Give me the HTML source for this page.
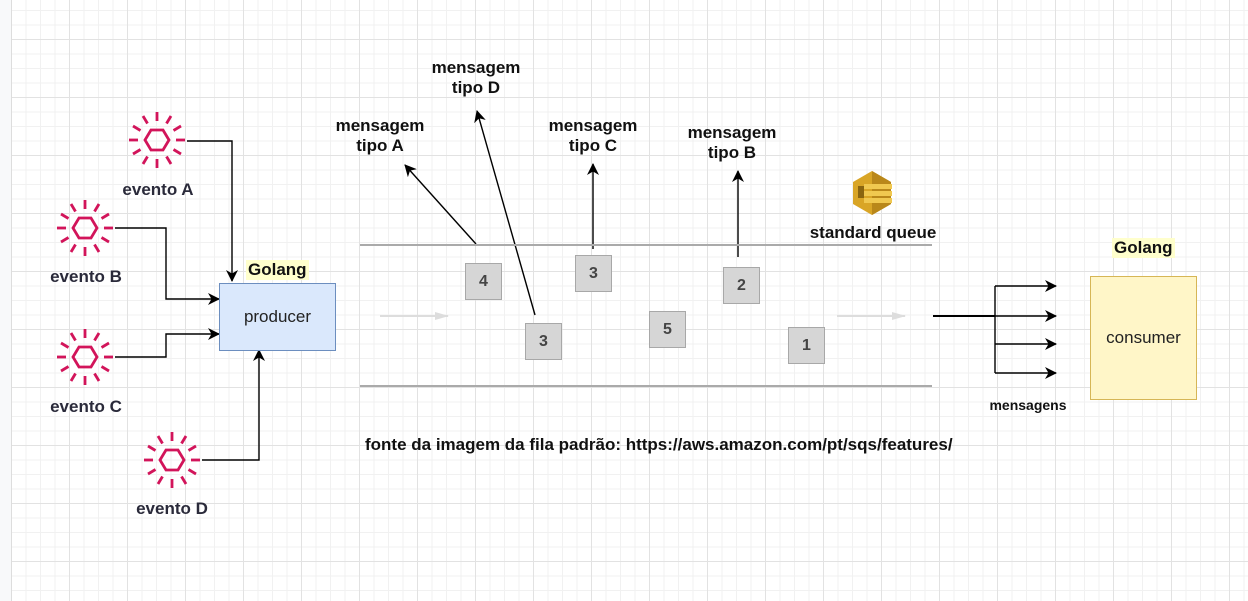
<!DOCTYPE html>
<html><head><meta charset="utf-8"><style>
body{margin:0;width:1248px;height:601px;overflow:hidden;position:relative;font-family:"Liberation Sans",sans-serif;
background-color:#fff;
background-image:linear-gradient(#e2e2e2 1px,transparent 1px),linear-gradient(90deg,#e2e2e2 1px,transparent 1px),linear-gradient(#f1f1f1 1px,transparent 1px),linear-gradient(90deg,#f1f1f1 1px,transparent 1px);
background-size:58px 58px,58px 58px,14.5px 14.5px,14.5px 14.5px;
background-position:11px 39px,11px 39px,11px 10px,11px 10px;}
.strip{position:absolute;left:0;top:0;width:11px;height:601px;background:#f8f9fa;border-right:1px solid #ddd}
.t{position:absolute;font-weight:bold;font-size:17px;color:#111;text-align:center;line-height:20px;white-space:nowrap}
.ev{color:#2a2a3a}
.box{position:absolute;background:#d6d6d6;border:1px solid #a8a8a8;width:35px;height:35px;font-weight:bold;font-size:16px;color:#444;display:flex;align-items:center;justify-content:center}
</style></head><body>
<div class="strip"></div>
<svg width="1248" height="601" style="position:absolute;left:0;top:0">
<defs>
<marker id="a" markerWidth="12" markerHeight="12" refX="11" refY="6" orient="auto" markerUnits="userSpaceOnUse"><path d="M0,0 L12,6 L0,12 L3.5,6z" fill="#000"/></marker>
<marker id="g" markerWidth="14" markerHeight="10" refX="13" refY="5" orient="auto" markerUnits="userSpaceOnUse"><path d="M0,1 L14,5 L0,9z" fill="#ddd"/></marker>
<g id="sun" stroke="#d2145a" stroke-width="2.8" fill="none">
<polygon points="-12,0 -6,-10 6,-10 12,0 6,10 -6,10"/>
<g>
<line x1="0" y1="-19" x2="0" y2="-28"/><line x1="0" y1="19" x2="0" y2="28"/>
<line x1="19" y1="0" x2="28" y2="0"/><line x1="-19" y1="0" x2="-28" y2="0"/>
<line x1="9.5" y1="-16.5" x2="14" y2="-24"/><line x1="-9.5" y1="-16.5" x2="-14" y2="-24"/>
<line x1="9.5" y1="16.5" x2="14" y2="24"/><line x1="-9.5" y1="16.5" x2="-14" y2="24"/>
<line x1="16.5" y1="-9.5" x2="24" y2="-14"/><line x1="-16.5" y1="-9.5" x2="-24" y2="-14"/>
<line x1="16.5" y1="9.5" x2="24" y2="14"/><line x1="-16.5" y1="9.5" x2="-24" y2="14"/>
</g></g>
</defs>
<use href="#sun" x="157" y="140"/><use href="#sun" x="85" y="228"/><use href="#sun" x="85" y="357"/><use href="#sun" x="172" y="460"/>
<g stroke="#000" stroke-width="1.4" fill="none">
<polyline points="187,141 232,141 232,281" marker-end="url(#a)"/>
<polyline points="115,228 166,228 166,299 219,299" marker-end="url(#a)"/>
<polyline points="115,357 166,357 166,334 219,334" marker-end="url(#a)"/>
<polyline points="202,460 259,460 259,350" marker-end="url(#a)"/>
<line x1="476" y1="244" x2="405" y2="165" marker-end="url(#a)"/>
<line x1="535" y1="315" x2="477" y2="111" marker-end="url(#a)"/>
<line x1="593" y1="249" x2="593" y2="164" marker-end="url(#a)"/>
<line x1="738" y1="257" x2="738" y2="171" marker-end="url(#a)"/>
</g>
<g stroke="#aaa" stroke-width="2"><line x1="360" y1="245" x2="932" y2="245"/><line x1="360" y1="386" x2="932" y2="386"/></g>
<g stroke="#ddd" stroke-width="2"><line x1="380" y1="316" x2="448" y2="316" marker-end="url(#g)"/><line x1="837" y1="316" x2="905" y2="316" marker-end="url(#g)"/></g>
<g stroke="#000" stroke-width="1.4" fill="none">
<line x1="933" y1="316" x2="995" y2="316" stroke-width="2"/>
<line x1="995" y1="286" x2="995" y2="373"/>
<line x1="995" y1="286" x2="1056" y2="286" marker-end="url(#a)"/>
<line x1="995" y1="316" x2="1056" y2="316" marker-end="url(#a)"/>
<line x1="995" y1="344" x2="1056" y2="344" marker-end="url(#a)"/>
<line x1="995" y1="373" x2="1056" y2="373" marker-end="url(#a)"/>
</g>
<g transform="translate(872,193)">
<polygon points="-19,-11 0,-22 19,-11 19,11 0,22 -19,11" fill="#d9a526"/>
<polygon points="0,-22 19,-11 19,11 0,22" fill="#b9871a"/>
<rect x="-8" y="-9" width="28" height="5" fill="#f0c850"/><rect x="-8" y="-2" width="28" height="5" fill="#f0c850"/><rect x="-8" y="5" width="28" height="5" fill="#f0c850"/>
<rect x="-14" y="-7" width="6" height="12" fill="#8a6510"/>
</g>
</svg>
<div class="t ev" style="left:108px;top:180px;width:100px">evento A</div>
<div class="t ev" style="left:36px;top:267px;width:100px">evento B</div>
<div class="t ev" style="left:36px;top:397px;width:100px">evento C</div>
<div class="t ev" style="left:122px;top:499px;width:100px">evento D</div>
<div class="t" style="left:246px;top:260px;background:#ffffcc;padding:0 2px">Golang</div>
<div style="position:absolute;left:219px;top:283px;width:115px;height:66px;background:#dae8fc;border:1px solid #6c8ebf;display:flex;align-items:center;justify-content:center;font-size:17px;color:#222">producer</div>
<div class="t" style="left:320px;top:116px;width:120px">mensagem<br>tipo A</div>
<div class="t" style="left:416px;top:58px;width:120px">mensagem<br>tipo D</div>
<div class="t" style="left:533px;top:116px;width:120px">mensagem<br>tipo C</div>
<div class="t" style="left:672px;top:123px;width:120px">mensagem<br>tipo B</div>
<div class="t" style="left:800px;top:223px;width:146px">standard queue</div>
<div class="box" style="left:465px;top:263px">4</div>
<div class="box" style="left:525px;top:323px">3</div>
<div class="box" style="left:575px;top:255px">3</div>
<div class="box" style="left:649px;top:311px">5</div>
<div class="box" style="left:723px;top:267px">2</div>
<div class="box" style="left:788px;top:327px">1</div>
<div class="t" style="left:1112px;top:238px;background:#ffffcc;padding:0 2px">Golang</div>
<div style="position:absolute;left:1090px;top:276px;width:105px;height:122px;background:#fff6c8;border:1px solid #d6b656;display:flex;align-items:center;justify-content:center;font-size:17px;color:#222">consumer</div>
<div class="t" style="left:978px;top:395px;width:100px;font-size:14px">mensagens</div>
<div class="t" style="left:365px;top:435px;font-size:17px">fonte da imagem da fila padrão: https://aws.amazon.com/pt/sqs/features/</div>
</body></html>
